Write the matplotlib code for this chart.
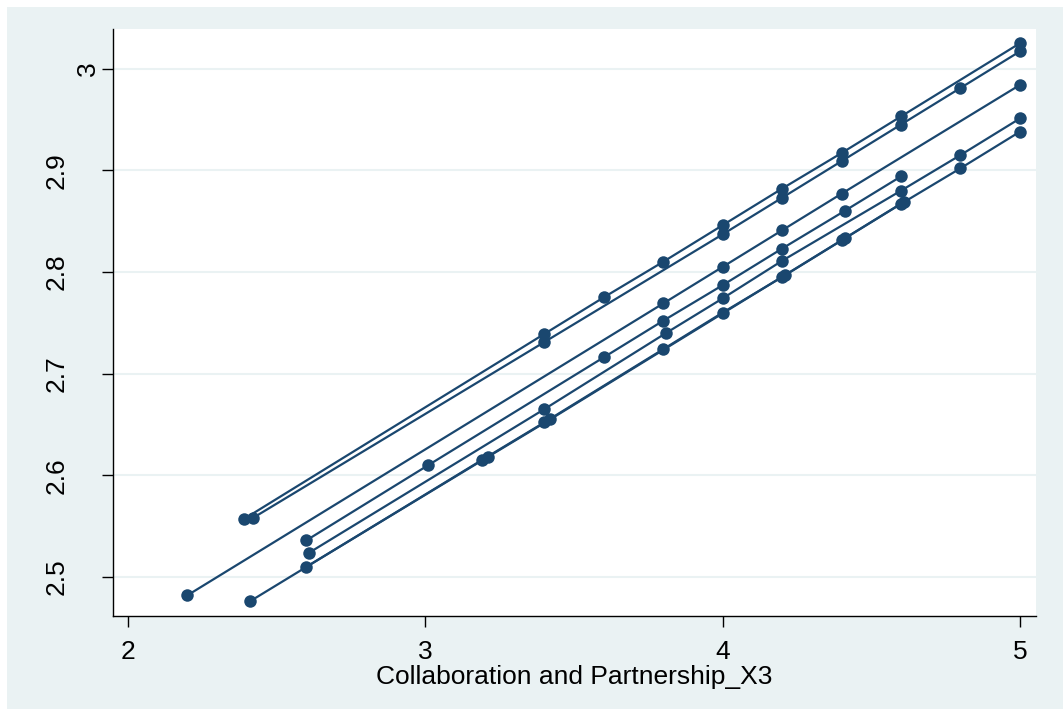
import matplotlib.pyplot as plt
from matplotlib.patches import Rectangle
from matplotlib.transforms import blended_transform_factory

# fitted values by group
x_a = [2.39, 3.40, 3.60, 3.80, 4.00, 4.20, 4.40, 4.60, 5.00]
y_a = [2.557, 2.739, 2.775, 2.810, 2.846, 2.882, 2.917, 2.953, 3.025]

x_b = [2.42, 3.40, 4.00, 4.20, 4.40, 4.60, 4.80, 5.00]
y_b = [2.558, 2.731, 2.837, 2.873, 2.909, 2.945, 2.981, 3.017]

x_c = [2.20, 3.80, 4.00, 4.20, 4.40, 5.00]
y_c = [2.482, 2.769, 2.805, 2.841, 2.877, 2.984]

x_f = [2.60, 3.01, 3.60, 3.80, 4.00, 4.20, 4.41, 4.60]
y_f = [2.536, 2.610, 2.716, 2.752, 2.787, 2.823, 2.860, 2.894]

x_d = [2.61, 3.40, 3.81, 4.00, 4.20, 4.60, 4.80, 5.00]
y_d = [2.524, 2.665, 2.740, 2.774, 2.811, 2.880, 2.915, 2.951]

x_e = [2.41, 3.19, 3.40, 3.80, 4.00, 4.20, 4.40, 4.60, 4.80, 5.00]
y_e = [2.476, 2.615, 2.652, 2.724, 2.760, 2.795, 2.831, 2.867, 2.902, 2.938]

x_e2 = [2.60, 3.21, 3.42, 4.21, 4.41, 4.61]
y_e2 = [2.510, 2.618, 2.655, 2.797, 2.833, 2.869]

groups = [(x_a, y_a), (x_b, y_b), (x_c, y_c), (x_f, y_f),
          (x_d, y_d), (x_e, y_e), (x_e2, y_e2)]

x_ticks = [2, 3, 4, 5]
y_ticks = [2.5, 2.6, 2.7, 2.8, 2.9, 3.0]
y_labels = ["2.5", "2.6", "2.7", "2.8", "2.9", "3"]

navy = "#1a476f"
bg = "#eaf2f3"

plt.rcParams["font.family"] = ["Liberation Sans", "DejaVu Sans"]

fig = plt.figure(figsize=(10.63, 7.09), dpi=100, facecolor="white")
fig.patches.append(Rectangle((7 / 1063, 0), 1, 1 - 7 / 709, transform=fig.transFigure,
                             facecolor=bg, edgecolor="none", zorder=-1))

ax = fig.add_axes([113 / 1063, 1 - 616 / 709, (1036 - 113) / 1063, (616 - 29) / 709])
ax.set_facecolor("white")

for gx, gy in groups:
    ax.plot(gx, gy, color=navy, lw=1.6, marker="o", markersize=9,
            markeredgewidth=0, zorder=3)

ax.set_xlim(1.9495, 5.054)
ax.set_ylim(2.4616, 3.039)

ax.set_xticks(x_ticks)
ax.set_xticklabels([str(v) for v in x_ticks], fontsize=19)
ax.set_yticks(y_ticks)
ax.tick_params(axis="both", length=8, width=1, color="black")
ax.tick_params(axis="x", pad=9)
ax.tick_params(axis="y", labelleft=False)

# stata-style vertical y labels (the short "3" sits closer to the axis)
trans = blended_transform_factory(fig.transFigure, ax.transData)
for val, lab in zip(y_ticks, y_labels):
    xpos = 88 if lab == "3" else 57
    ax.text(xpos / 1063, val, lab, transform=trans, rotation=90,
            ha="center", va="center", fontsize=19)

ax.grid(axis="y", color=bg, lw=1.5, zorder=0)
ax.set_axisbelow(True)

for side in ["top", "right"]:
    ax.spines[side].set_visible(False)
for side in ["left", "bottom"]:
    ax.spines[side].set_linewidth(1.0)

ax.set_xlabel("Collaboration and Partnership_X3", fontsize=19, labelpad=1)

fig.savefig("out.png", dpi=100, facecolor=fig.get_facecolor())
